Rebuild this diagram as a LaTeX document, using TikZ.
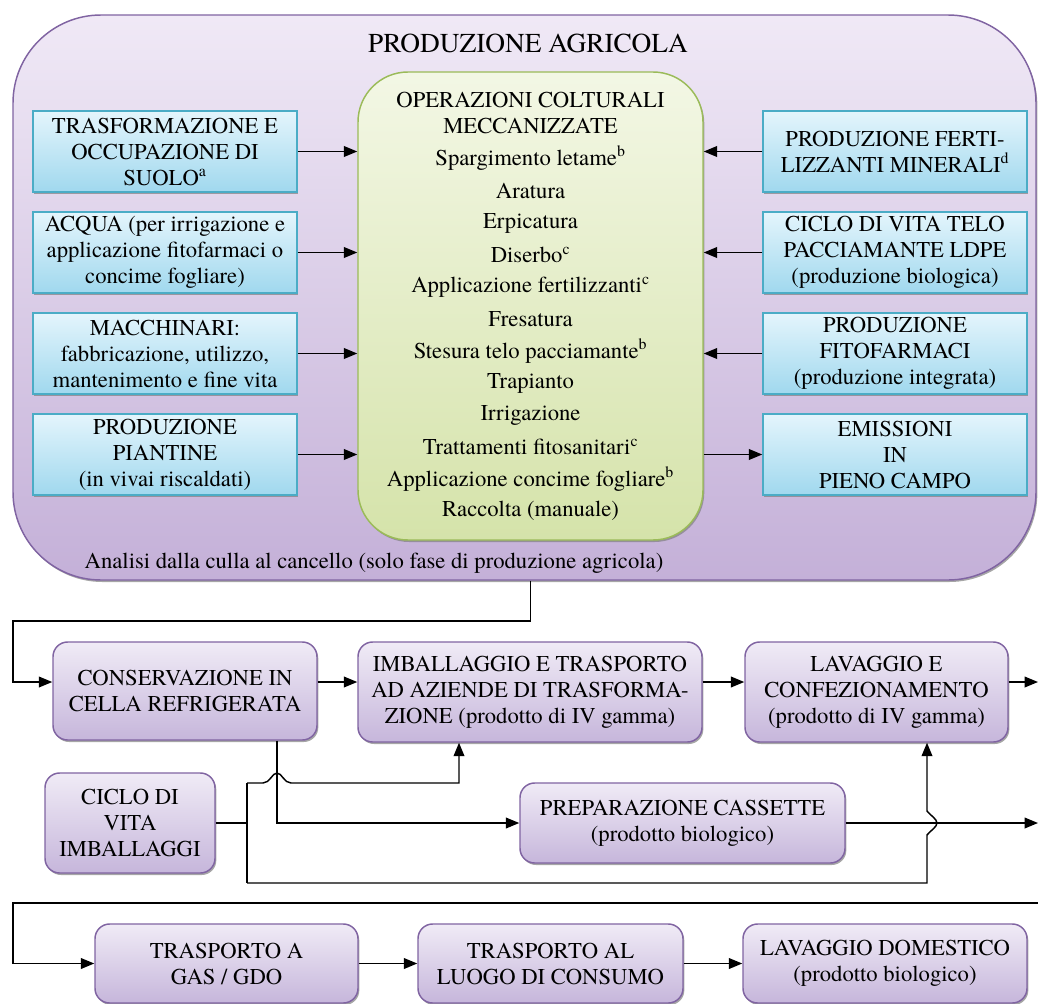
\documentclass[tikz,border=0pt]{standalone}
\usepackage{fontspec}
\setmainfont{texgyretermes}[Extension=.otf, UprightFont=*-regular, BoldFont=*-bold, ItalicFont=*-italic]
\usepackage{tikz}
\usetikzlibrary{arrows.meta,shadows}

\definecolor{lilaline}{RGB}{128,100,162}
\definecolor{lilatop}{RGB}{240,233,246}
\definecolor{lilabot}{RGB}{196,176,216}
\definecolor{boxtop}{RGB}{240,235,246}
\definecolor{boxbot}{RGB}{198,182,219}
\definecolor{verdeline}{RGB}{155,187,89}
\definecolor{verdetop}{RGB}{243,247,229}
\definecolor{verdebot}{RGB}{213,227,170}
\definecolor{azzline}{RGB}{75,172,198}
\definecolor{azztop}{RGB}{228,245,252}
\definecolor{azzbot}{RGB}{160,216,238}

\begin{document}
\begin{tikzpicture}[x=0.75pt,y=0.75pt,yscale=-1,xscale=1,
	every node/.style={font=\fontsize{17}{19.5}\selectfont, align=center},
	shdw/.style={drop shadow={shadow xshift=1pt,shadow yshift=-1.5pt,fill=black!50,opacity=.7}},
	blubox/.style={draw=azzline, line width=1.1pt, top color=azztop, bottom color=azzbot, minimum width=198pt, minimum height=60.75pt, inner sep=1pt, shdw},
	lilbox/.style={draw=lilaline, line width=1.1pt, rounded corners=11pt, top color=boxtop, bottom color=boxbot, inner sep=1pt, shdw},
	arr/.style={line width=1.1pt, -{Triangle[length=10pt,width=8pt]}},
	lin/.style={line width=1.1pt}]

	\useasboundingbox (0,0) rectangle (1038,1003);

	%Rounded Rect: produzione agricola
	\node [draw=lilaline, line width=1.1pt, rounded corners=66pt, top color=lilatop, bottom color=lilabot, minimum width=767.25pt, minimum height=423.75pt, shdw] (agri) at (524.5,297.5) {};
	% Text Node
	\node [font=\fontsize{20.5}{24}\selectfont] (titolo) at (528,43) {PRODUZIONE AGRICOLA};
	% Text Node
	\node (analisi) at (374,563) {Analisi dalla culla al cancello (solo fase di produzione agricola)};

	%Rounded Rect: operazioni colturali
	\node [draw=verdeline, line width=1.1pt, rounded corners=37.5pt, top color=verdetop, bottom color=verdebot, minimum width=258.75pt, minimum height=351pt, shdw] (green) at (530.5,306) {};
	% Text Nodes
	\foreach \t/\yy [count=\i] in {OPERAZIONI COLTURALI/100, MECCANIZZATE/126,
		Spargimento letame\textsuperscript{b}/158, Aratura/191, Erpicatura/223,
		Diserbo\textsuperscript{c}/255, Applicazione fertilizzanti\textsuperscript{c}/287,
		Fresatura/319, Stesura telo pacciamante\textsuperscript{b}/351, Trapianto/383,
		Irrigazione/415, Trattamenti fitosanitari\textsuperscript{c}/447,
		Applicazione concime fogliare\textsuperscript{b}/479, Raccolta (manuale)/511}
	\node (op\i) at (530.5,\yy) {\t};

	%Shape: Rectangle (input a sinistra)
	\node [blubox] (tl1) at (165,151.5) {TRASFORMAZIONE E\\OCCUPAZIONE DI\\SUOLO\textsuperscript{a}};
	\node [blubox] (tl2) at (165,252.5) {ACQUA (per irrigazione e\\applicazione fitofarmaci o\\concime fogliare)};
	\node [blubox] (tl3) at (165,353.5) {MACCHINARI:\\fabbricazione, utilizzo,\\mantenimento e fine vita};
	\node [blubox] (tl4) at (165,454.5) {PRODUZIONE\\PIANTINE\\(in vivai riscaldati)};
	%Shape: Rectangle (input a destra)
	\node [blubox] (tr1) at (895,151.5) {PRODUZIONE FERTI-\\LIZZANTI MINERALI\textsuperscript{d}};
	\node [blubox] (tr2) at (895,252.5) {CICLO DI VITA TELO\\PACCIAMANTE LDPE\\(produzione biologica)};
	\node [blubox] (tr3) at (895,353.5) {PRODUZIONE\\FITOFARMACI\\(produzione integrata)};
	\node [blubox] (tr4) at (895,454.5) {EMISSIONI\\IN\\PIENO CAMPO};

	%Straight Lines
	\foreach \i in {1,...,4}
	\draw [arr] (tl\i.east) -- (tl\i.east -| green.west);
	\foreach \i in {1,...,3}
	\draw [arr] (tr\i.west) -- (tr\i.west -| green.east);
	\draw [arr] (green.east |- tr4.west) -- (tr4.west);

	%Rounded Rect: post raccolta
	\node [lilbox, minimum width=198pt, minimum height=73.5pt] (cons) at (185,691) {CONSERVAZIONE IN\\CELLA REFRIGERATA};
	\node [lilbox, minimum width=258pt, minimum height=75pt] (imb) at (530,692) {IMBALLAGGIO E TRASPORTO\\AD AZIENDE DI TRASFORMA-\\ZIONE (prodotto di IV gamma)};
	\node [lilbox, minimum width=197.25pt, minimum height=75pt] (lav) at (876.5,692) {LAVAGGIO E\\CONFEZIONAMENTO\\(prodotto di IV gamma)};
	\node [lilbox, minimum width=127.5pt, minimum height=75pt] (ciclo) at (130,823) {CICLO DI\\VITA\\IMBALLAGGI};
	\node [lilbox, minimum width=243.75pt, minimum height=60pt] (prep) at (682.5,823) {PREPARAZIONE CASSETTE\\(prodotto biologico)};
	\node [lilbox, minimum width=197.25pt, minimum height=59.25pt] (tra) at (226.5,963.5) {TRASPORTO A\\GAS / GDO};
	\node [lilbox, minimum width=198.75pt, minimum height=59.25pt] (trl) at (550.5,963.5) {TRASPORTO AL\\LUOGO DI CONSUMO};
	\node [lilbox, minimum width=213pt, minimum height=59.25pt] (dom) at (885,963.5) {LAVAGGIO DOMESTICO\\(prodotto biologico)};

	% coordinates for the connectors
	\coordinate (top2) at (13,621);
	\coordinate (r2) at (0,682);
	\coordinate (out1) at (1038,682);
	\coordinate (out2) at (1038,823);
	\coordinate (in3) at (1038,903);
	\coordinate (c277) at (277,0);
	\coordinate (c459) at (459,0);
	\coordinate (c927) at (927,0);
	\coordinate (jn1) at (247,783);
	\coordinate (jn2) at (247,883);

	%Straight Lines
	\draw [arr] (green.south |- agri.south) |- (top2) |- (cons.west |- r2);
	\draw [arr] (cons.east |- r2) -- (imb.west |- r2);
	\draw [arr] (imb.east |- r2) -- (lav.west |- r2);
	\draw [arr] (lav.east |- r2) -- (out1);
	\draw [arr] (c277 |- cons.south) |- (prep.west);
	\draw [arr] (prep.east) -- (out2);
	\draw [lin] (ciclo.east) -- (ciclo.east -| jn1);
	\draw [lin] (jn1) -- (jn2);
	% hop sopra la linea verticale
	\draw [arr] (jn1) -- (263,783) .. controls (270,783) and (272,773) .. (277,773) .. controls (282,773) and (284,783) .. (291,783) -| (c459 |- imb.south);
	% hop sulla linea orizzontale
	\draw [arr] (jn2) -| (927,835) .. controls (930,831) and (937,827) .. (937,823) .. controls (937,819) and (930,815) .. (927,811) -- (c927 |- lav.south);

	\draw [arr] (in3) -- (13,903) |- (tra.west);
	\draw [arr] (tra.east) -- (trl.west);
	\draw [arr] (trl.east) -- (dom.west);

\end{tikzpicture}
\end{document}
